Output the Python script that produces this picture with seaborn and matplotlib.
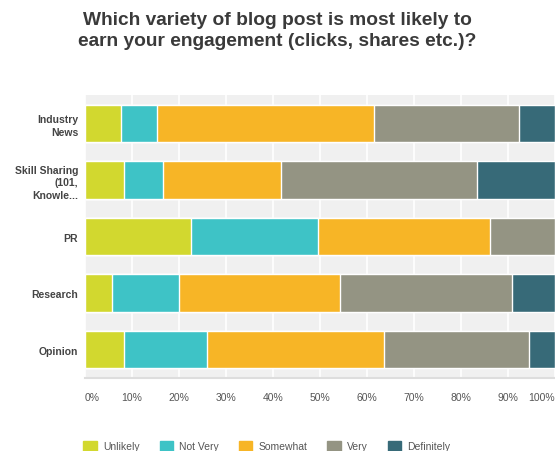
import numpy as np
import pandas as pd
import matplotlib
matplotlib.use("Agg")
import matplotlib.pyplot as plt
import matplotlib.patches as mpatches
import seaborn as sns

# --------- DATA (percent of respondents) ----------
categories = ["Industry\nNews", "Skill Sharing\n(101,\nKnowle...", "PR", "Research", "Opinion"]
series_names = ["Unlikely", "Not Very", "Somewhat", "Very", "Definitely"]
unlikely = [7.7, 8.3, 22.5, 5.7, 8.3]
not_very = [7.7, 8.4, 27.1, 14.3, 17.6]
somewhat = [46.1, 25.0, 36.6, 34.2, 37.7]
very = [30.8, 41.6, 13.8, 36.7, 30.9]
definitely = [7.7, 16.7, 0.0, 9.1, 5.5]
x_ticks = [0, 10, 20, 30, 40, 50, 60, 70, 80, 90, 100]

colors = ["#d2d82f", "#3ec3c6", "#f7b526", "#949483", "#376a78"]
text_col = "#3a3a3a"

# --------- STACK ----------
df = pd.DataFrame({"cat": categories, "Unlikely": unlikely, "Not Very": not_very,
                   "Somewhat": somewhat, "Very": very, "Definitely": definitely})
cum = df[series_names].cumsum(axis=1)

sns.set_style("white")
plt.rcParams["font.family"] = ["Liberation Sans", "DejaVu Sans"]

fig = plt.figure(figsize=(5.55, 4.52), dpi=100)
ax = fig.add_axes([85 / 555, 1 - 379 / 452, 470 / 555, 283 / 452])
ax.set_facecolor("#f0f0f0")

# draw cumulative totals from largest to smallest so they overlap into a stack
for name, col in zip(series_names[::-1], colors[::-1]):
    sns.barplot(x=cum[name], y=df["cat"], color=col, orient="h",
                width=0.66, saturation=1, ax=ax, zorder=3)

ax.set_xlim(0, 100)
ax.set_ylim(4.5, -0.5)
ax.set_xticks(x_ticks)
ax.set_xticklabels([f"{t}%" for t in x_ticks], fontsize=7.5, color="#555555")
labs = ax.get_xticklabels()
labs[0].set_ha("left")
labs[-1].set_ha("right")
ax.tick_params(axis="x", length=0, pad=10)
ax.tick_params(axis="y", length=0, pad=5)
for lab in ax.get_yticklabels():
    lab.set_fontweight("bold")
    lab.set_fontsize(7.5)
    lab.set_color("#444444")
    lab.set_linespacing(1.3)
ax.set_xlabel("")
ax.set_ylabel("")
ax.grid(axis="x", color="white", linewidth=1.2, zorder=1)
ax.set_axisbelow(True)
for s in ["top", "right", "left"]:
    ax.spines[s].set_visible(False)
ax.spines["bottom"].set_color("#dddddd")
ax.spines["bottom"].set_linewidth(1.5)

fig.text(0.5, 1 - 31 / 452, "Which variety of blog post is most likely to\nearn your engagement (clicks, shares etc.)?",
         ha="center", va="center", fontsize=13.8, fontweight="bold", color=text_col, linespacing=1.35)

handles = [mpatches.Patch(color=c, label=n) for n, c in zip(series_names, colors)]
fig.legend(handles=handles, loc="center left", bbox_to_anchor=(74 / 555, 1 - 447 / 452),
           ncol=5, frameon=False, fontsize=7.5, handlelength=1.3, handleheight=1.1,
           handletextpad=0.6, columnspacing=1.9, labelcolor="#555555")

fig.savefig("out.png", dpi=100)
